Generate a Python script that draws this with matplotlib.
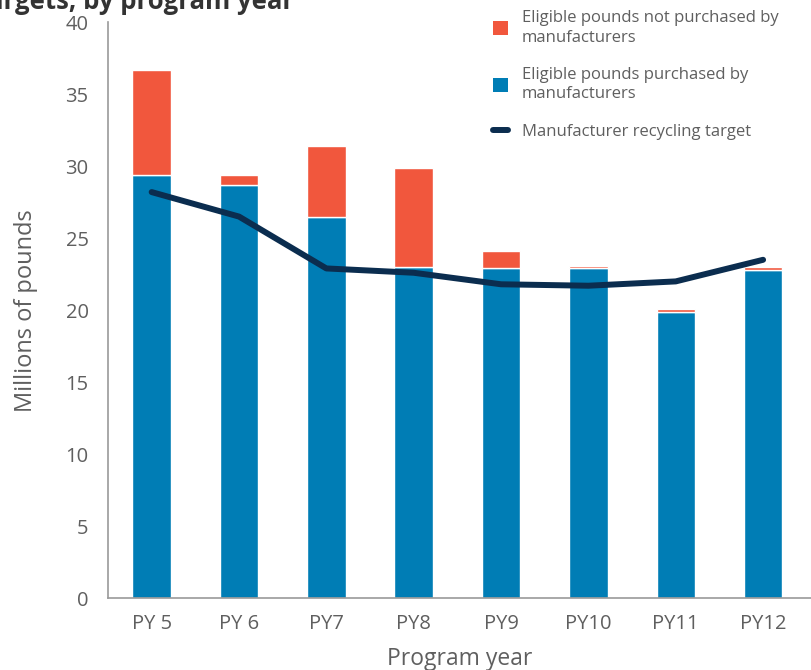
import numpy as np
import matplotlib.pyplot as plt
from matplotlib.patches import Patch
from matplotlib.lines import Line2D

# data (millions of pounds)
years = ["PY 5", "PY 6", "PY7", "PY8", "PY9", "PY10", "PY11", "PY12"]
purchased = [29.4, 28.7, 26.5, 23.0, 22.9, 22.9, 19.9, 22.8]
not_purchased = [7.3, 0.7, 4.9, 6.9, 1.2, 0.2, 0.15, 0.2]
target = [28.2, 26.5, 22.9, 22.6, 21.8, 21.7, 22.0, 23.5]

blue = "#007DB5"
red = "#F1573D"
navy = "#0B2D4F"
grey = "#5F5F5F"

plt.rcParams['font.family'] = ['Open Sans', 'DejaVu Sans']

fig = plt.figure(figsize=(8.12, 6.70), dpi=100)
ax = fig.add_axes([0.133, 0.107, 0.867, 0.86])

x = np.arange(len(years))
ax.bar(x, purchased, width=0.44, color=blue, edgecolor="white", linewidth=1.0)
ax.bar(x, not_purchased, width=0.44, bottom=purchased, color=red,
       edgecolor="white", linewidth=1.0)
ax.plot(x, target, color=navy, linewidth=4.3, solid_capstyle="round",
        solid_joinstyle="round")

ax.set_xlim(-0.5, 7.56)
ax.set_ylim(0, 40)
ax.set_yticks(range(0, 41, 5))
ax.set_xticks(x)
ax.set_xticklabels(years)
ax.tick_params(axis="both", length=0, labelsize=14.5, colors=grey)
ax.tick_params(axis="x", pad=11)
ax.tick_params(axis="y", pad=14)

for s in ["top", "right"]:
    ax.spines[s].set_visible(False)
for s in ["left", "bottom"]:
    ax.spines[s].set_color("#9A9A9A")
    ax.spines[s].set_linewidth(1.2)

ax.set_ylabel("Millions of pounds", fontsize=17, color=grey, labelpad=20)
ax.set_xlabel("Program year", fontsize=16.5, color=grey, labelpad=10)

handles = [
    Patch(facecolor=red, edgecolor="none"),
    Patch(facecolor=blue, edgecolor="none"),
    Line2D([0], [0], color=navy, linewidth=4.3, solid_capstyle="round"),
]
labels = [
    "Eligible pounds not purchased by\nmanufacturers",
    "Eligible pounds purchased by\nmanufacturers",
    "Manufacturer recycling target",
]
leg = fig.legend(handles, labels, loc="upper left", bbox_to_anchor=(0.589, 1.007),
                 frameon=False, fontsize=12, handlelength=0.9, handleheight=0.9,
                 handletextpad=0.8, labelspacing=1.25, labelcolor=grey)
for t in leg.get_texts():
    t.set_linespacing(1.3)

# title is cropped at the top edge of the image
fig.text(0.362, 0.998, "Manufacturer recycling targets, by program year",
         ha="right", va="center", fontsize=18.5, fontweight="bold", color="#333333")

fig.savefig("out.png", dpi=100)
